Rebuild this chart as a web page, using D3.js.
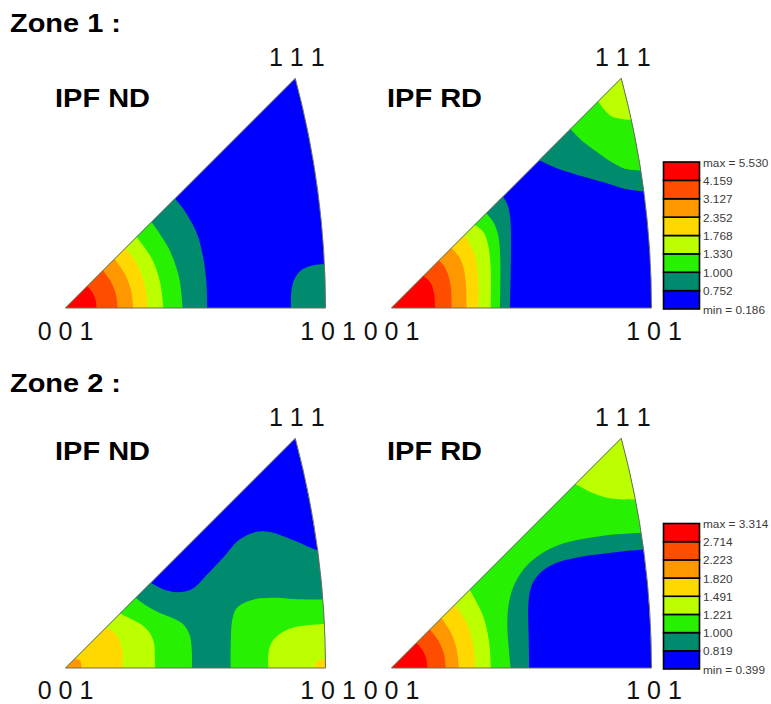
<!DOCTYPE html>
<html>
<head>
<meta charset="utf-8">
<script src="https://cdn.jsdelivr.net/npm/d3@7"></script>
<style>
  body { margin: 0; background: #fff; }
  svg { display: block; }
  text { font-family: Arial, "Liberation Sans", Helvetica, sans-serif; }
</style>
</head>
<body>
<svg id="chart" width="771" height="704"></svg>
<script>
// ---- contour levels (legend values, min ... max) ----
const zone1Levels = [0.186, 0.752, 1.000, 1.330, 1.768, 2.352, 3.127, 4.159, 5.530];
const zone2Levels = [0.399, 0.819, 1.000, 1.221, 1.491, 1.820, 2.223, 2.714, 3.314];

// one colour per band, lowest band first
const bandColors = ["#0000ff", "#008b6e", "#27f000", "#bbff00", "#ffd800", "#ff9800", "#ff4d00", "#ff0000"];

const zoneTitles = ["Zone 1 :", "Zone 2 :"];
const panelTitles = ["IPF ND", "IPF RD"];
const poleLabels = ["0 0 1", "1 0 1", "1 1 1"];

// Iso-density lines in stereographic coordinates [X, Y] of the 001-101-111 triangle.
// Each entry: [level, side of the triangle the region closes on, points along the line].
const zone1NdContours = [
  [0.752, "001", [[0.2258,0],[0.2245,0.04],[0.2195,0.08],[0.21,0.117],[0.196,0.145],[0.184,0.163],[0.174,0.175]]],
  [0.752, "101", [[0.359,0],[0.360,0.0287],[0.3654,0.0472],[0.3759,0.0605],[0.3918,0.0674],[0.4131,0.070],[0.43,0.0705]]],
  [1.000, "001", [[0.1866,0],[0.181,0.0485],[0.1645,0.095],[0.137,0.137]]],
  [1.330, "001", [[0.1558,0],[0.1508,0.0404],[0.1372,0.0792],[0.1131,0.1131]]],
  [1.768, "001", [[0.1308,0],[0.1268,0.034],[0.1154,0.0666],[0.0958,0.0958]]],
  [2.352, "001", [[0.108,0],[0.1045,0.028],[0.0945,0.0546],[0.0782,0.0782]]],
  [3.127, "001", [[0.0831,0],[0.0804,0.0215],[0.0725,0.0419],[0.0598,0.0598]]],
  [4.159, "001", [[0.0496,0],[0.0479,0.0128],[0.043,0.0248],[0.0347,0.0347]]]
];

const zone1RdContours = [
  [0.752, "001", [[0.1887,0],[0.1903,0.0897],[0.1892,0.1428],[0.185,0.164],[0.1775,0.1775]]],
  [0.752, "111", [[0.2355,0.2355],[0.2657,0.2219],[0.3081,0.2086],[0.3453,0.198],[0.3718,0.190],[0.401,0.1858],[0.42,0.185]]],
  [1.000, "001", [[0.1728,0],[0.1733,0.079],[0.170,0.116],[0.162,0.1375],[0.151,0.151]]],
  [1.000, "111", [[0.285,0.285],[0.3028,0.267],[0.324,0.251],[0.3506,0.2325],[0.3718,0.2219],[0.3957,0.2192],[0.42,0.219]]],
  [1.330, "001", [[0.158,0],[0.158,0.063],[0.154,0.100],[0.146,0.1215],[0.1325,0.1325]]],
  [1.330, "111", [[0.3294,0.3294],[0.340,0.3148],[0.3532,0.3041],[0.3718,0.3004],[0.3904,0.2999],[0.41,0.30]]],
  [1.768, "001", [[0.1383,0],[0.1383,0.042],[0.134,0.079],[0.1266,0.0977],[0.1165,0.1165]]],
  [2.352, "001", [[0.1197,0],[0.1186,0.0366],[0.1144,0.0658],[0.1075,0.0817],[0.0955,0.0955]]],
  [3.127, "001", [[0.0958,0],[0.0947,0.0313],[0.0894,0.0552],[0.0825,0.0685],[0.0755,0.0755]]],
  [4.159, "001", [[0.0693,0],[0.0682,0.0207],[0.064,0.0366],[0.0576,0.0456],[0.0511,0.0511]]]
];

const zone2NdContours = [
  [0.819, "below", [[0.136,0.136],[0.16,0.124],[0.185,0.121],[0.205,0.128],[0.2248,0.148],[0.2513,0.176],[0.2778,0.205],[0.3044,0.217],[0.326,0.2168],[0.347,0.21],[0.373,0.1995],[0.40,0.188],[0.42,0.185]]],
  [1.000, "001", [[0.2015,0],[0.2012,0.0287],[0.198,0.052],[0.188,0.0695],[0.1685,0.0805],[0.1485,0.0885],[0.129,0.099],[0.112,0.112]]],
  [1.000, "101", [[0.263,0],[0.2634,0.0446],[0.2656,0.0764],[0.2725,0.095],[0.2885,0.1056],[0.3097,0.111],[0.3363,0.112],[0.3628,0.1099],[0.384,0.1093],[0.43,0.109]]],
  [1.221, "001", [[0.1425,0],[0.1423,0.02],[0.141,0.0393],[0.1345,0.0552],[0.1239,0.0669],[0.1054,0.0775],[0.0868,0.0868]]],
  [1.221, "101", [[0.323,0],[0.3241,0.0287],[0.331,0.0446],[0.347,0.0579],[0.3681,0.0658],[0.4016,0.0695],[0.43,0.07]]],
  [1.491, "001", [[0.0915,0],[0.0905,0.026],[0.0857,0.0446],[0.0761,0.0579],[0.064,0.064]]],
  [1.491, "101", [[0.3973,0],[0.3989,0.0085],[0.4053,0.0127],[0.43,0.014]]],
  [1.820, "001", [[0.0257,0],[0.0235,0.0115],[0.0152,0.0152]]]
];

const zone2RdContours = [
  [0.819, "outer", [[0.2195,0],[0.2185,0.05],[0.218,0.1],[0.222,0.128],[0.232,0.146],[0.248,0.16],[0.27,0.17],[0.3,0.177],[0.327,0.181],[0.353,0.184],[0.38,0.187],[0.42,0.19]]],
  [1.000, "outer", [[0.19,0],[0.1865,0.035],[0.1845,0.07],[0.1865,0.1],[0.1925,0.125],[0.204,0.148],[0.2205,0.168],[0.245,0.186],[0.2736,0.1985],[0.3002,0.2049],[0.3267,0.2091],[0.3532,0.2128],[0.3798,0.2144],[0.42,0.2155]]],
  [1.221, "001", [[0.1582,0],[0.1555,0.0417],[0.1455,0.084],[0.1246,0.1246]]],
  [1.221, "111", [[0.293,0.293],[0.3159,0.2808],[0.3373,0.2728],[0.3585,0.2691],[0.3824,0.2686],[0.41,0.268]]],
  [1.491, "001", [[0.1338,0],[0.1304,0.035],[0.1204,0.0695],[0.101,0.101]]],
  [1.820, "001", [[0.1072,0],[0.1043,0.028],[0.0953,0.055],[0.0796,0.0796]]],
  [2.223, "001", [[0.0865,0],[0.0836,0.0224],[0.0749,0.0433],[0.0612,0.0612]]],
  [2.714, "001", [[0.0573,0],[0.0553,0.0148],[0.0493,0.0285],[0.0398,0.0398]]]
];

// ---- geometry of the standard cubic triangle (stereographic projection) ----
const X101 = Math.SQRT2 - 1;            // [101]
const X111 = 1 / (Math.sqrt(3) + 1);    // [111] (X = Y)
const SIDE = 260;                       // on-screen length of the 001-101 edge

// closing points outside the triangle for each kind of region (removed by the clip)
const closures = {
  "001":   [[-0.1, 0.6], [-0.1, -0.1]],
  "101":   [[0.6, -0.1]],
  "111":   [[0.6, 0.6], [-0.1, 0.6]],
  "below": [[0.6, -0.1], [-0.1, -0.1], [-0.1, 0.3]],
  "outer": [[0.6, 0.6], [-0.1, 0.6], [-0.1, -0.1]]
};

const panels = [
  { id: "z1nd", title: panelTitles[0], ox: 65.5,  oy: 308, levels: zone1Levels, contours: zone1NdContours, titleX: 55,  titleY: 107, poleY: 340 },
  { id: "z1rd", title: panelTitles[1], ox: 391.5, oy: 308, levels: zone1Levels, contours: zone1RdContours, titleX: 387, titleY: 107, poleY: 340 },
  { id: "z2nd", title: panelTitles[0], ox: 65.5,  oy: 668, levels: zone2Levels, contours: zone2NdContours, titleX: 55,  titleY: 460, poleY: 699 },
  { id: "z2rd", title: panelTitles[1], ox: 391.5, oy: 668, levels: zone2Levels, contours: zone2RdContours, titleX: 387, titleY: 460, poleY: 699 }
];

const svg = d3.select("#chart");
const defs = svg.append("defs");

// zone headings
[[zoneTitles[0], 32], [zoneTitles[1], 392]].forEach(([t, yy]) => {
  svg.append("text").attr("x", 10).attr("y", yy)
    .attr("font-size", 25.5).attr("font-weight", "bold").attr("fill", "#000")
    .attr("textLength", 111).attr("lengthAdjust", "spacingAndGlyphs")
    .text(t);
});

panels.forEach(p => {
  const x = d3.scaleLinear().domain([0, X101]).range([p.ox, p.ox + SIDE]);
  const y = d3.scaleLinear().domain([0, X101]).range([p.oy, p.oy - SIDE]);
  const R = (x(1) - x(0)) * Math.SQRT2;   // [101]-[111] great circle: centre (-1,0), radius sqrt(2)

  const tri = `M${x(0)},${y(0)}L${x(X101)},${y(0)}A${R},${R} 0 0 0 ${x(X111)},${y(X111)}Z`;

  defs.append("clipPath").attr("id", "clip-" + p.id).append("path").attr("d", tri);

  const g = svg.append("g").attr("clip-path", `url(#clip-${p.id})`);

  // lowest band fills the whole triangle
  g.append("path").attr("d", tri).attr("fill", bandColors[0]);

  const smooth = d3.line().x(d => x(d[0])).y(d => y(d[1])).curve(d3.curveCatmullRom.alpha(0.5));
  const regionPath = (pts, key) => {
    let d = smooth(pts);
    closures[key].forEach(c => { d += `L${x(c[0])},${y(c[1])}`; });
    return d + "Z";
  };

  const ordered = p.contours.slice().sort((a, b) => a[0] - b[0]);
  g.selectAll("path.band").data(ordered).join("path")
    .attr("class", "band")
    .attr("d", d => regionPath(d[2], d[1]))
    .attr("fill", d => bandColors[p.levels.indexOf(d[0])]);

  // triangle outline
  svg.append("path").attr("d", tri).attr("fill", "none")
    .attr("stroke", "#6f6f5c").attr("stroke-width", 1);

  // panel title
  svg.append("text").attr("x", p.titleX).attr("y", p.titleY)
    .attr("font-size", 26).attr("font-weight", "bold")
    .attr("textLength", 95).attr("lengthAdjust", "spacingAndGlyphs")
    .text(p.title);

  // pole labels
  const lab = (t, cx, by) => svg.append("text")
    .attr("x", cx).attr("y", by).attr("text-anchor", "middle")
    .attr("font-size", 25).attr("fill", "#111").text(t);
  lab(poleLabels[0], x(0) + 0, p.poleY);
  lab(poleLabels[1], x(X101) + 2.5, p.poleY);
  lab(poleLabels[2], x(X111) + 1.5, y(X111) - 12.5);
});

// ---- legends ----
function drawLegend(top, bottom, levels) {
  const lg = svg.append("g");
  const yb = d3.scaleLinear().domain([levels.length - 1, 0]).range([top, bottom]);
  const fmt = d3.format(".3f");
  const bands = d3.range(levels.length - 1);   // band i spans levels[i]..levels[i+1]
  lg.selectAll("rect").data(bands).join("rect")
    .attr("x", 663.5).attr("width", 36)
    .attr("y", i => yb(i + 1)).attr("height", i => yb(i) - yb(i + 1))
    .attr("fill", i => bandColors[i])
    .attr("stroke", "#000").attr("stroke-width", 1.6);
  lg.selectAll("text").data(levels).join("text")
    .attr("x", 703).attr("y", (v, i) => yb(i) + 1.5)
    .attr("dominant-baseline", "middle")
    .attr("font-size", 11.8).attr("fill", "#3a3a3a")
    .text((v, i) => i === levels.length - 1 ? "max = " + fmt(v)
                  : i === 0 ? "min = " + fmt(v) : fmt(v));
}
drawLegend(162, 309, zone1Levels);
drawLegend(523.5, 669, zone2Levels);
</script>
</body>
</html>
